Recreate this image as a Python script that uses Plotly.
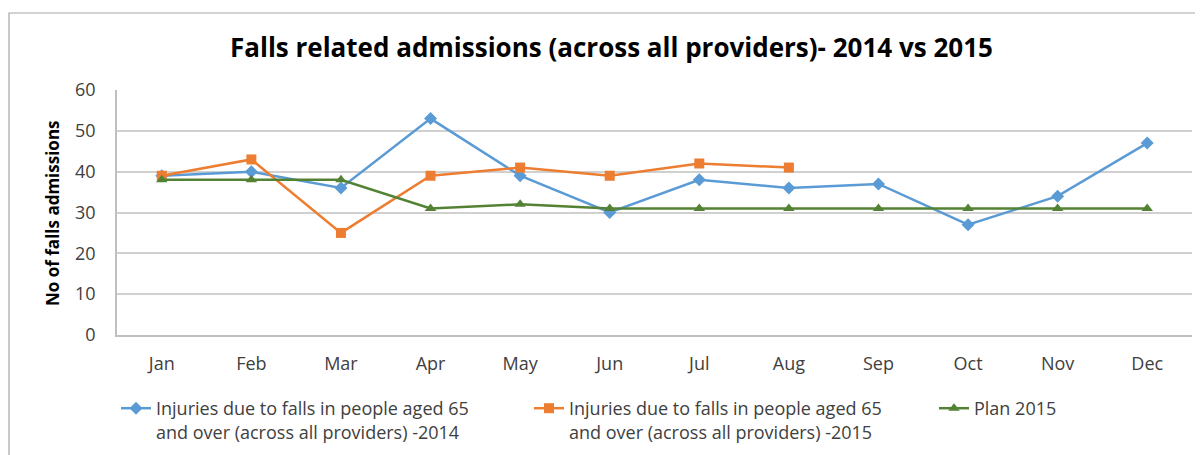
import plotly.graph_objects as go

months = ["Jan", "Feb", "Mar", "Apr", "May", "Jun", "Jul", "Aug", "Sep", "Oct", "Nov", "Dec"]
falls_2014 = [39, 40, 36, 53, 39, 30, 38, 36, 37, 27, 34, 47]
falls_2015 = [39, 43, 25, 39, 41, 39, 42, 41]
plan_2015 = [38, 38, 38, 31, 32, 31, 31, 31, 31, 31, 31, 31]

name_2014 = "Injuries due to falls in people aged 65<br>and over (across all providers) -2014"
name_2015 = "Injuries due to falls in people aged 65<br>and over (across all providers) -2015"
name_plan = "Plan 2015"

FONT = "Open Sans, sans-serif"
TXT = "#404040"

fig = go.Figure()
fig.add_trace(go.Scatter(x=months, y=falls_2014, name=name_2014, mode="lines+markers",
                         line=dict(color="#5B9BD5", width=2.5), legend="legend",
                         marker=dict(symbol="diamond", size=10, color="#5B9BD5")))
fig.add_trace(go.Scatter(x=months[:len(falls_2015)], y=falls_2015, name=name_2015, mode="lines+markers",
                         line=dict(color="#ED7D31", width=2.5), legend="legend2",
                         marker=dict(symbol="square", size=10, color="#ED7D31")))
fig.add_trace(go.Scatter(x=months, y=plan_2015, name=name_plan, mode="lines+markers",
                         line=dict(color="#548235", width=2.5), legend="legend3",
                         marker=dict(symbol="triangle-up", size=10, color="#548235")))

# page body has an 8px margin: screen px = figure px + 8
OFF = 8
W, H = 1203, 455
# plot area in screen px
PL, PR, PT, PB = 117, 1192, 90, 335
L = PL - OFF
T = PT - OFF
R = W - (PR - OFF)
B = H - (PB - OFF)
pw, ph = W - L - R, H - T - B

def px_x(sx):
    return (sx - OFF - L) / pw

def px_y(sy):
    return (H - B - (sy - OFF)) / ph

def leg(sx):
    return dict(orientation="v", x=px_x(sx), y=px_y(390), xanchor="left", yanchor="top",
                font=dict(family=FONT, size=18, color=TXT), bgcolor="rgba(0,0,0,0)", valign="top")

fig.update_layout(
    width=W, height=H,
    margin=dict(l=L, r=R, t=T, b=B, autoexpand=False),
    paper_bgcolor="white", plot_bgcolor="white",
    font=dict(family=FONT, size=18, color=TXT),
    showlegend=True,
    legend=leg(116), legend2=leg(529), legend3=leg(934),
    xaxis=dict(type="category", range=[-0.5, 11.5], showgrid=False,
               showline=True, linecolor="#bfbfbf", linewidth=1.5,
               ticks="", ticklabelstandoff=12, tickfont=dict(size=18, color=TXT),
               fixedrange=True),
    yaxis=dict(range=[0, 60], dtick=10, showgrid=True, gridcolor="#d0d0d0", gridwidth=1.5,
               zeroline=False, showline=True, linecolor="#bfbfbf", linewidth=1.5,
               ticks="", ticklabelstandoff=16, tickfont=dict(size=18, color=TXT),
               fixedrange=True),
    annotations=[dict(text="<b>Falls related admissions (across all providers)- 2014 vs 2015</b>",
                      x=px_x(611), y=px_y(47), xref="paper", yref="paper",
                      xanchor="center", yanchor="middle", showarrow=False,
                      font=dict(family=FONT, size=26, color="#000000")),
                 dict(text="<b>No of falls admissions</b>", textangle=-90,
                      x=px_x(52), y=px_y(213), xref="paper", yref="paper",
                      xanchor="center", yanchor="middle", showarrow=False,
                      font=dict(family=FONT, size=17, color="#000000"))],
    shapes=[dict(type="rect", xref="paper", yref="paper",
                 x0=px_x(9), x1=px_x(1220), y0=px_y(475), y1=px_y(13),
                 line=dict(color="#a6a6a6", width=1.2), fillcolor="rgba(0,0,0,0)", layer="below")],
)

fig.write_html("out.html")
